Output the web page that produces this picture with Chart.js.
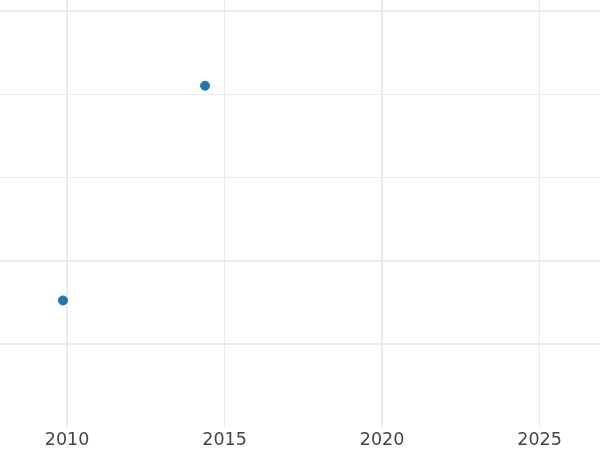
<!DOCTYPE html>
<html lang="en">
<head>
  <meta charset="UTF-8" />
  <title>Scatter</title>
  <script src="https://cdn.jsdelivr.net/npm/chart.js@4.4.0/dist/chart.umd.min.js"></script>
  <style>
    html, body { margin: 0; padding: 0; background: #fff; }
    #wrap { width: 600px; height: 450px; }
  </style>
</head>
<body>
  <div id="wrap"><canvas id="chart"></canvas></div>
  <script>
    // data
    const years = [2009.87, 2014.38];
    const values = [0.52, 3.1];
    const xTicks = [2010, 2015, 2020, 2025];
    const yTicks = [0, 1, 2, 3, 4];

    // heavier grid lines in the reference
    const xBold = [2010, 2020];
    const yBold = [0, 1, 4];

    new Chart(document.getElementById('chart'), {
      type: 'scatter',
      data: {
        datasets: [{
          data: years.map((x, i) => ({ x: x, y: values[i] })),
          backgroundColor: '#1f77b4',
          borderColor: '#1f77b4',
          pointRadius: 4.5,
          pointHoverRadius: 4.5
        }]
      },
      options: {
        responsive: true,
        maintainAspectRatio: false,
        animation: false,
        layout: { padding: 0, autoPadding: false },
        plugins: { legend: { display: false }, tooltip: { enabled: false } },
        scales: {
          x: {
            type: 'linear',
            min: 2007.87,
            max: 2026.92,
            afterFit: s => { s.height = 23; },
            afterBuildTicks: s => { s.ticks = xTicks.map(v => ({ value: v })); },
            border: { display: false },
            grid: {
              color: '#ebebeb',
              drawTicks: false,
              lineWidth: c => xBold.includes(c.tick && c.tick.value) ? 2 : 1
            },
            ticks: {
              padding: 3,
              color: '#444',
              font: { family: 'DejaVu Sans', size: 17.5 },
              callback: v => String(v)
            }
          },
          y: {
            min: -1.0,
            max: 4.13,
            afterFit: s => { s.width = 0; },
            afterBuildTicks: s => { s.ticks = yTicks.map(v => ({ value: v })); },
            border: { display: false },
            grid: {
              color: '#ebebeb',
              drawTicks: false,
              lineWidth: c => yBold.includes(c.tick && c.tick.value) ? 2 : 1
            },
            ticks: { display: false }
          }
        }
      }
    });
  </script>
</body>
</html>
